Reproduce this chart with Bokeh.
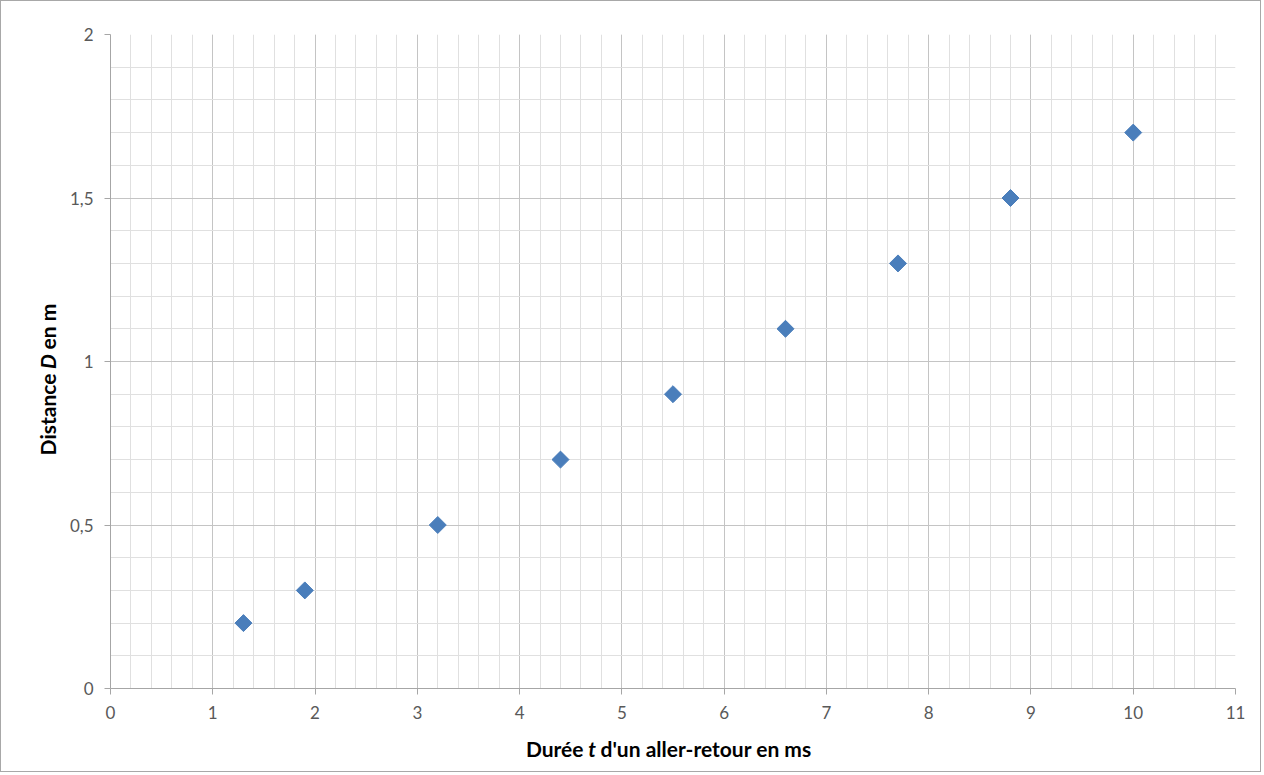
import numpy as np
from bokeh.plotting import figure
from bokeh.models import FixedTicker, CustomJSTickFormatter, Label, Range1d
from bokeh.embed import file_html
from bokeh.resources import INLINE

# data
t_ms = [1.3, 1.9, 3.2, 4.4, 5.5, 6.6, 7.7, 8.8, 10.0]
d_m = [0.2, 0.3, 0.5, 0.7, 0.9, 1.1, 1.3, 1.5, 1.7]

x_major = list(range(0, 12))
x_minor = [round(i * 0.2, 2) for i in range(0, 56)]
y_major = [0, 0.5, 1, 1.5, 2]
y_minor = [round(i * 0.1, 2) for i in range(0, 21)]

FONT = "Lato"
TICK_COLOR = "#595959"

p = figure(width=1256, height=767, frame_width=1125, frame_height=654,
           min_border_left=109, min_border_right=22, min_border_top=33, min_border_bottom=80,
           x_range=Range1d(0, 11), y_range=Range1d(0, 2),
           output_backend="svg", toolbar_location=None)
p.styles = {"border": "1px solid #a8a8a8"}
p.outline_line_color = None

p.xaxis.ticker = FixedTicker(ticks=x_major, minor_ticks=x_minor)
p.yaxis.ticker = FixedTicker(ticks=y_major, minor_ticks=y_minor)
fmt = CustomJSTickFormatter(code="return String(tick).replace('.', ',');")
p.xaxis.formatter = fmt
p.yaxis.formatter = fmt

for ax in (p.xaxis, p.yaxis):
    ax.axis_line_color = "#a6a6a6"
    ax.major_tick_line_color = "#a6a6a6"
    ax.major_tick_in = 0
    ax.major_tick_out = 6
    ax.minor_tick_line_color = None
    ax.major_label_text_font = FONT
    ax.major_label_text_font_size = "17px"
    ax.major_label_text_color = TICK_COLOR
p.xaxis.major_label_standoff = 11
p.yaxis.major_label_standoff = 11

p.grid.grid_line_color = "#c4c4c4"
p.grid.minor_grid_line_color = "#e0e0e0"

p.scatter(t_ms, d_m, marker="square", angle=np.pi / 4, size=12,
          fill_color="#4A7EBB", line_color="#4A7EBB")

def mk(x, y, text, align, italic=False, angle=0.0):
    return Label(x=x, y=y, text=text, text_align=align,
                 text_baseline="middle", angle=angle, text_font=FONT,
                 text_font_size="21px",
                 text_font_style="bold italic" if italic else "bold",
                 text_color="#000000")

# Labels are spread over the side panels (they are drawn at data positions,
# the panel only reserves space): keeps the plot frame where the reference has it.
# x-axis title: "Durée t d'un aller-retour en ms" (t in italic)
yx = -0.182
p.add_layout(mk(4.625, yx, "Durée", "right"), "below")
p.add_layout(mk(4.708, yx, "t", "center", italic=True), "below")
p.add_layout(mk(4.791, yx, "d'un aller-retour en ms", "left"), "above")

# y-axis title: "Distance D en m" (D in italic)
xy = -0.616
p.add_layout(mk(xy, 0.963, "Distance", "right", angle=np.pi / 2), "left")
p.add_layout(mk(xy, 1.000, "D", "center", italic=True, angle=np.pi / 2), "left")
p.add_layout(mk(xy, 1.037, "en m", "left", angle=np.pi / 2), "right")

open("out.html", "w").write(file_html(p, INLINE))
